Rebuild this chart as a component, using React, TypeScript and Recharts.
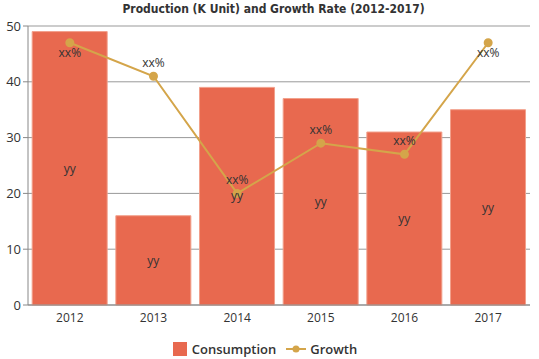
import React from 'react';
import { ComposedChart, Bar, Line, XAxis, YAxis, CartesianGrid, Legend, LabelList } from 'recharts';

const years = ['2012', '2013', '2014', '2015', '2016', '2017'];
const consumption = [49, 16, 39, 37, 31, 35];
const growth = [47, 41, 20, 29, 27, 47];
const barLabels = ['yy', 'yy', 'yy', 'yy', 'yy', 'yy'];
const lineLabels = ['xx%', 'xx%', 'xx%', 'xx%', 'xx%', 'xx%'];
const yTicks = [0, 10, 20, 30, 40, 50];

const BAR_COLOR = '#E8694F';
const LINE_COLOR = '#D4A54A';

const data = years.map((year, i) => ({
  year,
  Consumption: consumption[i],
  Growth: growth[i],
  barLabel: barLabels[i],
  lineLabel: lineLabels[i],
}));

// labels near the top of the plot go under the point, the rest above it
const GrowthLabel = (props: any) => {
  const { x, y, value, index } = props;
  const below = growth[index] > 45;
  return (
    <text x={x} y={below ? y + 14 : y - 9} textAnchor="middle" fill="#333" fontSize={12}>
      {value}
    </text>
  );
};

const LegendContent = () => (
  <div style={{ display: 'flex', justifyContent: 'center', alignItems: 'center', paddingTop: 11, fontSize: 13, fontWeight: 600, color: '#333' }}>
    <span style={{ display: 'inline-block', width: 14, height: 14, background: BAR_COLOR, marginRight: 5 }} />
    <span style={{ marginRight: 10 }}>Consumption</span>
    <svg width={20} height={10} style={{ marginRight: 4 }}>
      <line x1={0} y1={5} x2={20} y2={5} stroke={LINE_COLOR} strokeWidth={2} />
      <circle cx={10} cy={5} r={3.5} fill={LINE_COLOR} />
    </svg>
    <span>Growth</span>
  </div>
);

export default function App() {
  return (
    <div style={{ position: 'absolute', left: 0, top: 0, width: 539, height: 359, background: '#fff', fontFamily: '"Open Sans", sans-serif' }}>
      <div
        style={{
          position: 'absolute',
          top: 2,
          left: 4,
          width: 539,
          textAlign: 'center',
          fontFamily: '"DejaVu Sans Condensed", "DejaVu Sans", sans-serif',
          fontWeight: 'bold',
          fontSize: 12,
          color: '#333',
        }}
      >
        Production (K Unit) and Growth Rate (2012-2017)
      </div>
      <ComposedChart
        width={539}
        height={359}
        data={data}
        margin={{ top: 26, right: 9, left: 0, bottom: 0 }}
        barCategoryGap="5%"
      >
        <CartesianGrid vertical={false} stroke="#999" />
        <XAxis
          dataKey="year"
          height={24}
          stroke="#888"
          tick={{ fill: '#333', fontSize: 12 }}
          tickLine={false}
        />
        <YAxis
          width={28}
          domain={[0, 50]}
          ticks={yTicks}
          stroke="#888"
          tick={{ fill: '#333', fontSize: 13 }}
          tickSize={5}
        />
        <Legend verticalAlign="bottom" height={30} content={<LegendContent />} />
        <Bar dataKey="Consumption" fill={BAR_COLOR} stroke="#F2A08C" strokeWidth={1} isAnimationActive={false}>
          <LabelList dataKey="barLabel" position="center" fill="#333" fontSize={12} />
        </Bar>
        <Line
          type="linear"
          dataKey="Growth"
          stroke={LINE_COLOR}
          strokeWidth={2}
          dot={{ r: 3.5, fill: LINE_COLOR, stroke: LINE_COLOR }}
          isAnimationActive={false}
        >
          <LabelList dataKey="lineLabel" content={<GrowthLabel />} />
        </Line>
      </ComposedChart>
    </div>
  );
}
